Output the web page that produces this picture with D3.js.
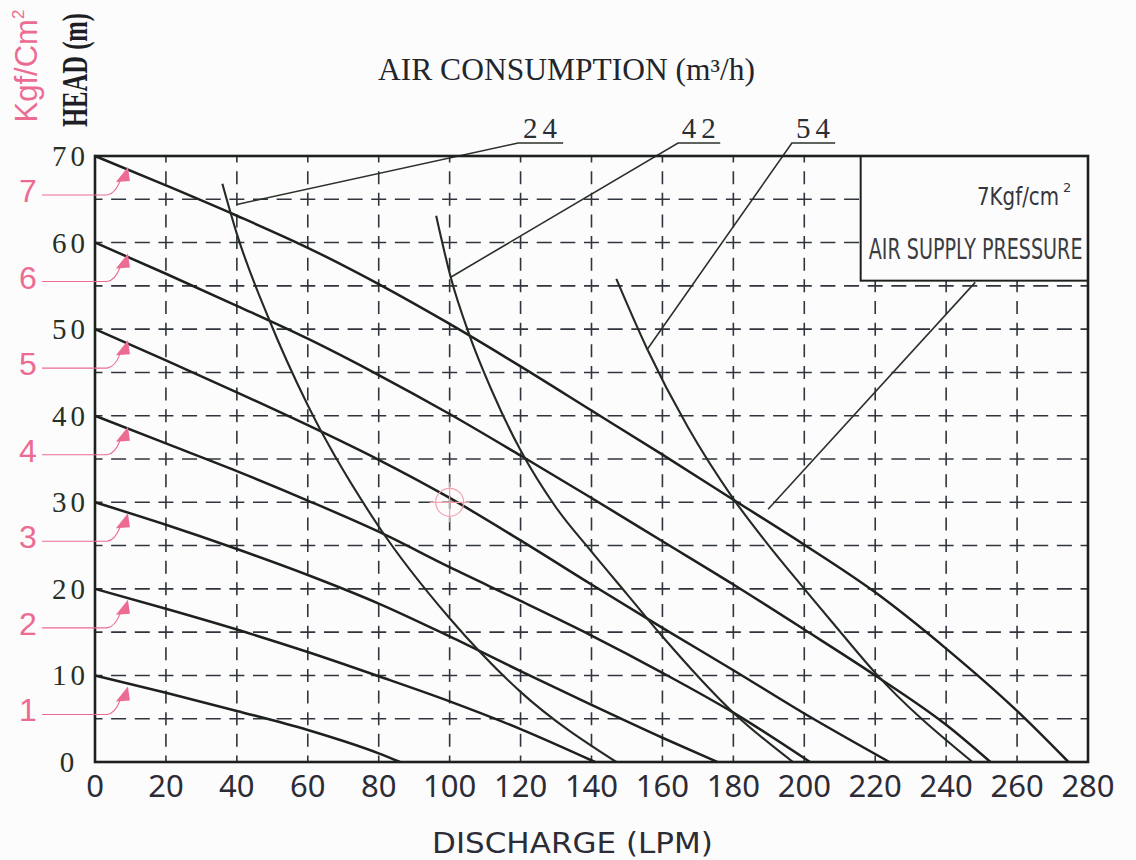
<!DOCTYPE html>
<html>
<head>
<meta charset="utf-8">
<script src="https://cdn.jsdelivr.net/npm/d3@7"></script>
<style>
  body { margin: 0; background: #fdfcfd; }
  svg { display: block; }
</style>
</head>
<body>
<div id="chartGoesHere"></div>
<script>
// pump performance chart: head vs discharge at several air supply pressures,
// with air consumption curves laid over the top

var xTicks = [0, 20, 40, 60, 80, 100, 120, 140, 160, 180, 200, 220, 240, 260, 280],
    headTicks = [0, 10, 20, 30, 40, 50, 60, 70],
    pressureLabels = [1, 2, 3, 4, 5, 6, 7],
    airLabels = ["24", "42", "54"];

// head (m) against discharge (LPM), one curve per air pressure (kgf/cm2)
var p1Curve = [[0, 10], [20, 8.0], [40, 5.9], [60, 3.7], [80, 1.0], [86, 0]];
var p2Curve = [[0, 20], [20, 17.7], [40, 15.3], [60, 12.7], [80, 9.9], [100, 7.0],
               [120, 3.8], [141, 0]];
var p3Curve = [[0, 30], [20, 27.4], [40, 24.6], [60, 21.6], [80, 18.3], [100, 14.5],
               [120, 10.5], [140, 6.6], [160, 2.8], [175.5, 0]];
var p4Curve = [[0, 40], [20, 36.8], [40, 33.6], [60, 30.2], [80, 26.6], [100, 22.5],
               [120, 18.6], [140, 14.6], [160, 10.3], [180, 5.7], [201.6, 0]];
var p5Curve = [[0, 50], [20, 46.4], [40, 42.7], [60, 38.9], [80, 34.9], [100, 30.5],
               [120, 25.6], [140, 20.5], [160, 15.5], [180, 10.6], [200, 5.6], [224, 0]];
var p6Curve = [[0, 60], [20, 56.4], [40, 52.7], [60, 48.9], [80, 44.7], [100, 40.2],
               [120, 35.4], [140, 30.5], [160, 25.5], [180, 20.5], [200, 15.3],
               [220, 10.0], [240, 4.3], [252.5, 0]];
var p7Curve = [[0, 70], [20, 66.6], [40, 63.1], [60, 59.4], [80, 55.2], [100, 50.6],
               [120, 45.7], [140, 40.6], [160, 35.5], [180, 30.3], [200, 25.1],
               [220, 19.6], [240, 13.1], [260, 5.9], [274.5, 0]];

// air consumption curves (m3/h)
var air24Curve = [[35.9, 66.8], [40, 61.0], [49, 51.2], [60, 41.2], [80, 27.2],
                  [100, 16.6], [120, 8.1], [147, 0]];
var air42Curve = [[96.2, 63.1], [100.3, 56.0], [105.5, 49.4], [112, 42.8],
                  [120, 36.0], [130, 29.4], [140, 24.3], [150, 19.4], [160, 14.5],
                  [180, 5.7], [196.8, 0]];
var air54Curve = [[147, 55.8], [155.6, 47.8], [167, 38.8], [180, 30.4], [190, 25.0],
                  [200, 20.0], [210, 15.1], [220, 10.3], [247.4, 0]];

// leader lines for the labels, in chart units
var leader24 = [[40.0, 64.4], [119.3, 71.5], [132.0, 71.5]];
var leader42 = [[100.3, 56.0], [164.4, 71.5], [176.3, 71.5]];
var leader54 = [[155.6, 47.6], [196.5, 71.5], [208.7, 71.5]];
var leaderPress = [[189.8, 29.2], [248.2, 55.4]];

var width = 1136, height = 860,
    boxLeft = 215.9, boxBottom = 55.6,   // legend box corner, chart units
    inkColor = "#1d211d", gridColor = "#30343c", pinkColor = "#ec6b93";

var xScale = d3.scaleLinear().domain([0, 280]).range([95, 1088]);
var yScale = d3.scaleLinear().domain([0, 70]).range([762, 156]);

var svg = d3.select("#chartGoesHere")
  .append("svg")
  .attr("width", width)
  .attr("height", height);

var lineGen = d3.line()
  .x(d => xScale(d[0]))
  .y(d => yScale(d[1]))
  .curve(d3.curveMonotoneX);

function squeezeText(where, str, target, font, size, color, anchor){
  // the scanned lettering is much narrower than any installed font,
  // so measure the text and squash it sideways to the wanted width
  var t = svg.append("g")
    .attr("transform", where)
    .append("text")
      .attr("text-anchor", anchor || "start")
      .attr("font-family", font)
      .attr("font-size", size)
      .attr("fill", color)
      .text(str);
  var w = t.node().getComputedTextLength();
  t.attr("transform", "scale(" + (target / w) + ",1)");
  return t;
}

function drawGrid(){
  // dashed grid, vertical every 20 LPM and horizontal every 5 m
  var vGrid = d3.range(20, 280, 20),
      hGrid = d3.range(5, 70, 5),
      vStep = (yScale(0) - yScale(5)) / 2,
      hStep = (xScale(20) - xScale(0)) / 3;

  svg.append("g").selectAll("line")
    .data(vGrid)
    .join("line")
      .attr("x1", d => xScale(d))
      .attr("x2", d => xScale(d))
      .attr("y1", yScale(0))
      .attr("y2", d => d > boxLeft ? yScale(boxBottom) : yScale(70))
      .attr("stroke", gridColor)
      .attr("stroke-width", 1.6)
      .attr("stroke-dasharray", "13 " + (vStep - 13))
      .attr("stroke-dashoffset", 6.5);

  svg.append("g").selectAll("line")
    .data(hGrid)
    .join("line")
      .attr("x1", xScale(0))
      .attr("x2", d => d > boxBottom ? xScale(boxLeft) : xScale(280))
      .attr("y1", d => yScale(d))
      .attr("y2", d => yScale(d))
      .attr("stroke", gridColor)
      .attr("stroke-width", 1.6)
      .attr("stroke-dasharray", "15 " + (hStep - 15))
      .attr("stroke-dashoffset", 7.5);
}

function drawCurves(){
  var pressureSeries = [p1Curve, p2Curve, p3Curve, p4Curve, p5Curve, p6Curve, p7Curve],
      airSeries = [air24Curve, air42Curve, air54Curve],
      leaders = [leader24, leader42, leader54];

  svg.append("g").selectAll("path")
    .data(pressureSeries)
    .join("path")
      .attr("d", lineGen)
      .attr("fill", "none")
      .attr("stroke", inkColor)
      .attr("stroke-width", 2.5);

  svg.append("g").selectAll("path")
    .data(airSeries)
    .join("path")
      .attr("d", lineGen)
      .attr("fill", "none")
      .attr("stroke", "#222a22")
      .attr("stroke-width", 2.1);

  // leaders
  var straight = d3.line().x(d => xScale(d[0])).y(d => yScale(d[1]));
  svg.append("g").selectAll("path")
    .data(leaders.concat([leaderPress]))
    .join("path")
      .attr("d", straight)
      .attr("fill", "none")
      .attr("stroke", "#2a3128")
      .attr("stroke-width", 1.6);

  svg.append("g").selectAll("text")
    .data(airLabels)
    .join("text")
      .attr("x", (d, i) => xScale((leaders[i][1][0] + leaders[i][2][0]) / 2) + 2)
      .attr("y", yScale(71.5) - 5)
      .attr("text-anchor", "middle")
      .attr("font-family", "'Liberation Serif', serif")
      .attr("font-size", 29)
      .attr("letter-spacing", 5)
      .attr("fill", "#2a2f35")
      .text(d => d);
}

function drawFrame(){
  // legend box in the top right corner
  svg.append("rect")
    .attr("x", xScale(boxLeft))
    .attr("y", yScale(70))
    .attr("width", xScale(280) - xScale(boxLeft))
    .attr("height", yScale(boxBottom) - yScale(70))
    .attr("fill", "#fdfcfd")
    .attr("stroke", inkColor)
    .attr("stroke-width", 2);

  squeezeText("translate(" + (xScale(280) - 29) + "," + (yScale(70) + 49) + ")",
              "7Kgf/cm", 82, "'DejaVu Sans', sans-serif", 25, "#33363c", "end");
  svg.append("text")
    .attr("x", xScale(280) - 25)
    .attr("y", yScale(70) + 36)
    .attr("font-family", "'DejaVu Sans', sans-serif")
    .attr("font-size", 13)
    .attr("fill", "#33363c")
    .text("2");

  squeezeText("translate(" + (xScale(boxLeft) + 8) + "," + (yScale(boxBottom) - 22) + ")",
              "AIR SUPPLY PRESSURE", 214, "'DejaVu Sans', sans-serif", 28, "#3a3d40");

  // plot border
  svg.append("rect")
    .attr("x", xScale(0))
    .attr("y", yScale(70))
    .attr("width", xScale(280) - xScale(0))
    .attr("height", yScale(0) - yScale(70))
    .attr("fill", "none")
    .attr("stroke", inkColor)
    .attr("stroke-width", 2.6);

  // faint registration mark left on the scan
  var cx = xScale(100), cy = yScale(30);
  var mark = svg.append("g").attr("stroke", "#f1a3ad").attr("fill", "none").attr("stroke-width", 1.2);
  mark.append("circle").attr("cx", cx).attr("cy", cy).attr("r", 14);
  mark.append("line").attr("x1", cx - 20).attr("x2", cx + 20).attr("y1", cy).attr("y2", cy);
  mark.append("line").attr("x1", cx).attr("x2", cx).attr("y1", cy - 20).attr("y2", cy + 20);
}

function drawAxes(){
  svg.append("g").selectAll("text")
    .data(xTicks)
    .join("text")
      .attr("x", d => xScale(d))
      .attr("y", 797)
      .attr("text-anchor", "middle")
      .attr("font-family", "'Noto Sans', sans-serif")
      .attr("font-size", 31)
      .attr("fill", "#2c2c36")
      .text(d => d);

  svg.append("g").selectAll("text")
    .data(headTicks)
    .join("text")
      .attr("x", d => d === 0 ? 69 : 89)
      .attr("y", d => yScale(d) + 10)
      .attr("text-anchor", d => d === 0 ? "middle" : "end")
      .attr("font-family", "'Liberation Serif', serif")
      .attr("font-size", 29)
      .attr("letter-spacing", 4)
      .attr("fill", "#263024")
      .text(d => d);

  // pink pressure labels with arrows pointing at each curve
  var pk = svg.append("g");
  pk.selectAll("text")
    .data(pressureLabels)
    .join("text")
      .attr("x", 28)
      .attr("y", d => yScale(d * 10) + 46)
      .attr("text-anchor", "middle")
      .attr("font-family", "'Liberation Sans', sans-serif")
      .attr("font-size", 32)
      .attr("fill", pinkColor)
      .text(d => d);
  pk.selectAll("path.lead")
    .data(pressureLabels)
    .join("path")
      .attr("class", "lead")
      .attr("d", d => {
        var yk = yScale(d * 10);
        return "M42," + (yk + 39) + "L107," + (yk + 39) +
               "Q115," + (yk + 38) + " 120," + (yk + 25);
      })
      .attr("fill", "none")
      .attr("stroke", pinkColor)
      .attr("stroke-width", 1.1);
  pk.selectAll("path.head")
    .data(pressureLabels)
    .join("path")
      .attr("class", "head")
      .attr("d", d => {
        var yk = yScale(d * 10), tx = xScale(9) + 1;
        return "M" + tx + "," + (yk + 11) + "L" + (tx - 12) + "," + (yk + 26) +
               "L" + (tx + 2) + "," + (yk + 25) + "Z";
      })
      .attr("fill", pinkColor);

  // titles
  squeezeText("translate(378,80)", "AIR CONSUMPTION (m\u00b3/h)", 377,
              "'Liberation Serif', serif", 31, "#22262c");
  squeezeText("translate(432,853)", "DISCHARGE (LPM)", 281,
              "'DejaVu Sans', sans-serif", 29, "#2c2c36");

  squeezeText("translate(87,70) rotate(-90)", "HEAD (m)", 110,
              "'Liberation Serif', serif", 35, "#1e1f24", "middle")
    .attr("font-weight", "bold");

  var kg = svg.append("text")
    .attr("transform", "translate(37,66) rotate(-90)")
    .attr("text-anchor", "middle")
    .attr("font-family", "'Liberation Sans', sans-serif")
    .attr("font-size", 31)
    .attr("fill", pinkColor);
  kg.append("tspan").text("Kgf/Cm");
  kg.append("tspan").attr("dy", -13).attr("font-size", 17).text("2");
}

drawGrid();
drawCurves();
drawFrame();
drawAxes();
</script>
</body>
</html>
